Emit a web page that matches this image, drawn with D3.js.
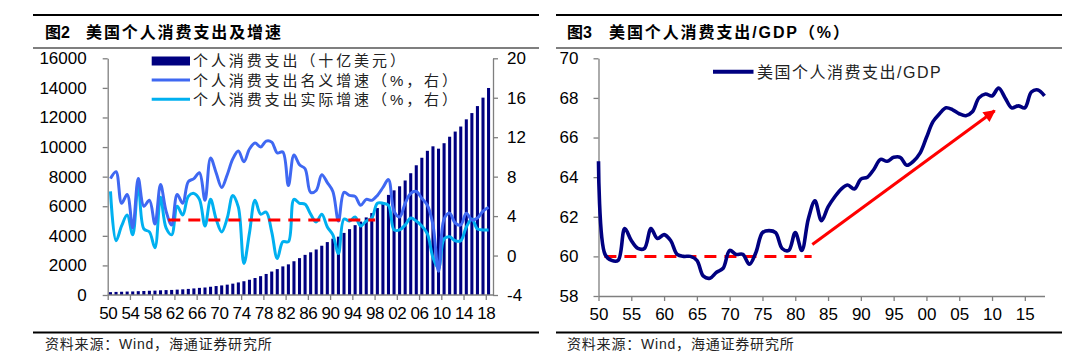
<!DOCTYPE html>
<html><head><meta charset="utf-8">
<script src="https://cdn.jsdelivr.net/npm/d3@7/dist/d3.min.js"></script>
<style>body{margin:0;background:#fff;} svg{display:block;}</style>
</head><body>
<svg id="c" width="1080" height="355"></svg>
<script>
// ---------------- DATA ----------------
const years = [1950,1951,1952,1953,1954,1955,1956,1957,1958,1959,
1960,1961,1962,1963,1964,1965,1966,1967,1968,1969,
1970,1971,1972,1973,1974,1975,1976,1977,1978,1979,
1980,1981,1982,1983,1984,1985,1986,1987,1988,1989,
1990,1991,1992,1993,1994,1995,1996,1997,1998,1999,
2000,2001,2002,2003,2004,2005,2006,2007,2008,2009,
2010,2011,2012,2013,2014,2015,2016,2017,2018];
// personal consumption expenditure, billion USD
const pce = [192.2,208.5,219.5,233.1,240.0,258.8,271.7,286.9,296.2,317.6,
331.8,342.2,363.3,382.7,411.5,443.8,480.9,507.8,558.0,605.1,
646.7,699.9,768.2,849.6,930.2,1030.5,1147.7,1274.0,1422.3,1585.4,
1750.7,1934.0,2071.3,2281.6,2492.3,2712.8,2886.3,3076.3,3330.0,3576.8,
3809.0,3943.4,4197.6,4452.0,4721.0,4962.6,5244.6,5536.8,5877.2,6283.8,
6767.2,7073.8,7348.9,7740.7,8232.0,8769.1,9277.2,9746.6,10050.1,9891.2,
10260.3,10698.9,11047.4,11388.2,11874.5,12297.5,12770.0,13340.4,13993.3];
// nominal growth, %
const nominalGrowth = [7.8,8.5,5.3,6.2,2.8,7.8,5.0,5.6,3.2,7.2,
4.5,3.1,6.2,5.3,7.5,7.8,8.4,5.6,9.9,8.4,
6.9,8.2,9.8,10.6,9.5,10.8,11.4,11.0,11.6,11.5,
10.4,10.5,7.1,10.2,9.2,8.8,6.4,6.6,8.2,7.4,
6.5,3.5,6.4,6.1,6.0,5.1,5.7,5.6,6.1,6.9,
7.7,4.5,3.9,5.3,6.3,6.5,5.8,5.1,3.1,-1.6,
3.7,4.3,3.3,3.1,4.3,3.6,3.8,4.5,4.9];
// real growth, %
const realGrowth = [6.5,1.5,3.0,4.1,2.1,7.3,2.7,2.4,0.8,5.9,
2.8,2.1,5.0,4.1,6.0,6.3,5.7,3.0,5.7,3.7,
2.4,3.8,6.1,4.9,-0.8,2.3,5.6,4.2,4.4,2.4,
-0.3,1.4,1.4,5.7,5.3,5.2,4.2,3.4,4.2,2.9,
2.1,0.2,3.7,3.5,3.9,3.0,3.5,3.8,5.3,5.3,
5.1,2.6,2.6,3.1,3.8,3.5,3.0,2.2,-0.2,-1.3,
1.7,1.9,1.5,1.5,2.9,3.7,2.7,2.6,2.6];
// PCE / GDP, %
const pceGdp = [64.8,60.1,59.8,59.8,61.4,60.8,60.4,60.4,61.4,60.9,
61.1,60.8,60.1,60.0,60.0,59.8,59.0,58.9,59.2,59.4,
60.3,60.1,60.1,59.6,60.2,61.2,61.3,61.2,60.4,60.3,
61.2,60.3,61.9,62.8,61.8,62.5,63.0,63.4,63.6,63.4,
63.9,64.0,64.4,64.9,64.8,65.0,65.0,64.6,64.8,65.2,
66.0,66.8,67.2,67.5,67.4,67.2,67.1,67.3,68.0,68.2,
68.1,68.5,68.0,67.5,67.6,67.5,68.3,68.4,68.1];

const leftYTicks = [0,2000,4000,6000,8000,10000,12000,14000,16000];
const rightYTicks = [-4,0,4,8,12,16,20];
const leftXTicks = [1950,1954,1958,1962,1966,1970,1974,1978,1982,1986,1990,1994,1998,2002,2006,2010,2014,2018];
const ratioYTicks = [58,60,62,64,66,68,70];
const ratioXTicks = [1950,1955,1960,1965,1970,1975,1980,1985,1990,1995,2000,2005,2010,2015];

const leftRef = {from: 1960.4, to: 1997.6, value: 3.6};   // red dashed, right axis
const ratioRef = {from: 1950.9, to: 1982.5, value: 60};   // red dashed
const ratioArrow = {x1: 1982.6, y1: 60.6, x2: 2010.4, y2: 67.35};

const titles = ["图2", "美国个人消费支出及增速", "图3", "美国个人消费支出/GDP（%）"];
const legendLeft = ["个人消费支出（十亿美元）", "个人消费支出名义增速（%，右）", "个人消费支出实际增速（%，右）"];
const legendRight = ["美国个人消费支出/GDP"];
const source = "资料来源：Wind，海通证券研究所";

// ---------------- DRAW ----------------
const FONT = '"Liberation Sans", Arial, "Noto Sans CJK SC", sans-serif';
const C_NAVY = "#000080", C_BLUE = "#3F68F2", C_CYAN = "#00B0F0", C_RED = "#FF0000", C_AXIS = "#7f7f7f";
const svg = d3.select("#c").attr("font-family", FONT);

function frame(x0, x1, t1, t2, tx1, tx2) {
  svg.append("line").attr("x1", x0).attr("x2", x1).attr("y1", 15).attr("y2", 15).attr("stroke", "#000").attr("stroke-width", 2);
  svg.append("line").attr("x1", x0).attr("x2", x1).attr("y1", 48).attr("y2", 48).attr("stroke", "#000").attr("stroke-width", 1.2);
  svg.append("line").attr("x1", x0).attr("x2", x1).attr("y1", 332.5).attr("y2", 332.5).attr("stroke", "#000").attr("stroke-width", 2);
  const t = svg.append("text").attr("y", 37.5).attr("font-size", 16).attr("font-weight", "bold").attr("fill", "#000");
  t.append("tspan").attr("x", tx1).text(t1);
  t.append("tspan").attr("x", tx2).attr("letter-spacing", 1.9).text(t2);
  svg.append("text").attr("x", tx1).attr("y", 349).attr("font-size", 14).attr("fill", "#222").attr("letter-spacing", 0.8).text(source);
}
frame(33, 539, titles[0], titles[1], 45, 86);
frame(556, 1062, titles[2], titles[3], 567, 609);

function styleAxis(g) {
  g.select(".domain").attr("stroke", C_AXIS).attr("stroke-width", 1.3);
  g.selectAll(".tick line").attr("stroke", C_AXIS).attr("stroke-width", 1.3);
  g.selectAll(".tick text").attr("fill", "#000").attr("font-size", 17).attr("font-family", FONT);
}
const plain = d => String(d);

// ----- left chart -----
const L = {left: 107.7, right: 493, top: 58.3, bottom: 295};
const xBand = d3.scaleBand().domain(years).range([L.left, L.left + 69 * 5.56]).paddingInner(0.45).paddingOuter(0.225);
const xYear = d3.scaleLinear().domain([1950, 2019]).range([L.left, L.left + 69 * 5.56]);
const xMid = y => xBand(y) + xBand.bandwidth() / 2;
const yL = d3.scaleLinear().domain([0, 16000]).range([L.bottom, L.top]);
const yR = d3.scaleLinear().domain([-4, 20]).range([L.bottom, L.top]);

svg.append("g").selectAll("rect").data(years).join("rect")
  .attr("x", d => xBand(d)).attr("width", xBand.bandwidth())
  .attr("y", (d, i) => yL(pce[i])).attr("height", (d, i) => yL(0) - yL(pce[i]))
  .attr("fill", C_NAVY);

const gyl = svg.append("g").attr("transform", `translate(${L.left},0)`)
  .call(d3.axisLeft(yL).tickValues(leftYTicks).tickSize(5).tickSizeOuter(0).tickPadding(16).tickFormat(plain));
styleAxis(gyl);
const gyr = svg.append("g").attr("transform", `translate(${L.right},0)`)
  .call(d3.axisRight(yR).tickValues(rightYTicks).tickSize(5).tickSizeOuter(0).tickPadding(9).tickFormat(plain));
styleAxis(gyr);
const gxl = svg.append("g").attr("transform", `translate(0,${L.bottom})`)
  .call(d3.axisBottom(xYear).tickValues(leftXTicks).tickSize(5).tickSizeOuter(0).tickPadding(7).tickFormat(d => String(d).slice(2)));
styleAxis(gxl);
gxl.select(".domain").attr("d", `M${L.left},0H${L.right}`);
gxl.selectAll(".tick text").attr("letter-spacing", -0.4);

const lineL = arr => d3.line().x((d, i) => xMid(years[i])).y(d => yR(d)).curve(d3.curveCatmullRom.alpha(0.5))(arr);
svg.append("path").attr("d", lineL(realGrowth)).attr("fill", "none").attr("stroke", C_CYAN).attr("stroke-width", 3);
svg.append("path").attr("d", lineL(nominalGrowth)).attr("fill", "none").attr("stroke", C_BLUE).attr("stroke-width", 3);
// red dashed
const refX = d3.scaleLinear().domain([1950, 2018]).range([xMid(1950), xMid(2018)]);
svg.append("line").attr("x1", refX(leftRef.from)).attr("x2", refX(leftRef.to))
  .attr("y1", yR(leftRef.value)).attr("y2", yR(leftRef.value))
  .attr("stroke", C_RED).attr("stroke-width", 3).attr("stroke-dasharray", "12,8");

// legend left
const lg = svg.append("g").attr("font-size", 15).attr("fill", "#222");
lg.append("rect").attr("x", 151.7).attr("y", 56.5).attr("width", 38.3).attr("height", 9).attr("fill", C_NAVY);
lg.append("line").attr("x1", 151.7).attr("x2", 190).attr("y1", 80).attr("y2", 80).attr("stroke", C_BLUE).attr("stroke-width", 3);
lg.append("line").attr("x1", 151.7).attr("x2", 190).attr("y1", 99.3).attr("y2", 99.3).attr("stroke", C_CYAN).attr("stroke-width", 3);
[66, 85.5, 105].forEach((yy, i) => lg.append("text").attr("x", 193).attr("y", yy).attr("letter-spacing", 2.9).text(legendLeft[i]));

// ----- right chart -----
const R = {left: 598.5, right: 1044.5, top: 58.3, bottom: 296};
const xR = d3.scaleLinear().domain([1950, 2018]).range([R.left, R.right]);
const yRR = d3.scaleLinear().domain([58, 70]).range([R.bottom, R.top]);
const gry = svg.append("g").attr("transform", `translate(${R.left},0)`)
  .call(d3.axisLeft(yRR).tickValues(ratioYTicks).tickSize(5).tickSizeOuter(0).tickPadding(15).tickFormat(plain));
styleAxis(gry);
const grx = svg.append("g").attr("transform", `translate(0,${R.bottom})`)
  .call(d3.axisBottom(xR).tickValues(ratioXTicks).tickSize(5).tickSizeOuter(0).tickPadding(7).tickFormat(d => String(d).slice(2)));
styleAxis(grx);

svg.append("line").attr("x1", xR(ratioRef.from)).attr("x2", xR(ratioRef.to))
  .attr("y1", yRR(ratioRef.value)).attr("y2", yRR(ratioRef.value))
  .attr("stroke", C_RED).attr("stroke-width", 3).attr("stroke-dasharray", "12,8");

svg.append("path").attr("d", d3.line().x((d, i) => xR(years[i])).y(d => yRR(d)).curve(d3.curveCatmullRom.alpha(0.5))(pceGdp))
  .attr("fill", "none").attr("stroke", C_NAVY).attr("stroke-width", 3.6).attr("stroke-linejoin", "round");

// arrow
svg.append("defs").append("marker").attr("id", "ah").attr("viewBox", "0 0 10 10").attr("refX", 9).attr("refY", 5)
  .attr("markerWidth", 4.2).attr("markerHeight", 4).attr("orient", "auto").attr("markerUnits", "strokeWidth")
  .append("path").attr("d", "M0,0L10,5L0,10Z").attr("fill", C_RED);
svg.append("line").attr("x1", xR(ratioArrow.x1)).attr("y1", yRR(ratioArrow.y1))
  .attr("x2", xR(ratioArrow.x2)).attr("y2", yRR(ratioArrow.y2))
  .attr("stroke", C_RED).attr("stroke-width", 3).attr("marker-end", "url(#ah)");

// legend right
svg.append("line").attr("x1", 713).attr("x2", 753.5).attr("y1", 71.7).attr("y2", 71.7).attr("stroke", C_NAVY).attr("stroke-width", 4);
svg.append("text").attr("x", 757).attr("y", 77.5).attr("font-size", 16).attr("fill", "#222").attr("letter-spacing", 1.5).text(legendRight[0]);
</script>
</body></html>
